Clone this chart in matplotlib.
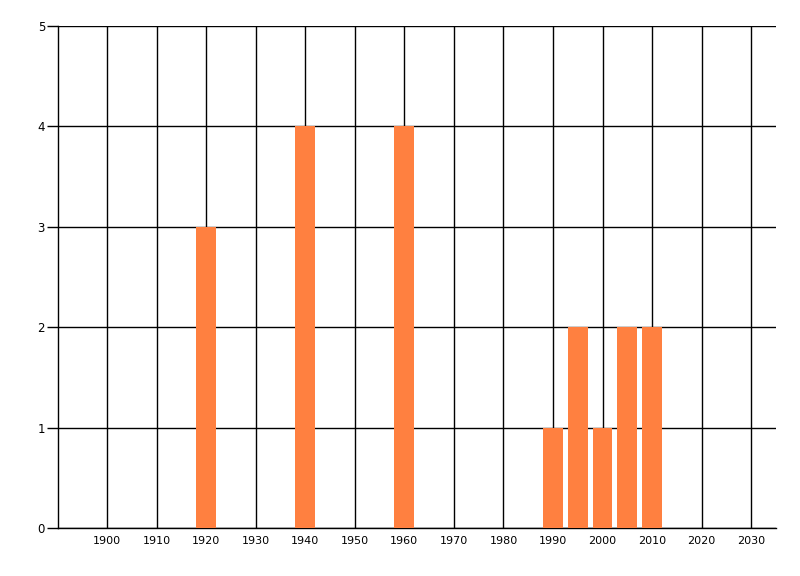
import numpy as np
import matplotlib.pyplot as plt

years = [1920, 1940, 1960, 1990, 1995, 2000, 2005, 2010]
counts = [3, 4, 4, 1, 2, 1, 2, 2]
xticks = list(range(1900, 2031, 10))
yticks = [0, 1, 2, 3, 4, 5]

fig = plt.figure(figsize=(8, 5.76), dpi=100)
ax = fig.add_axes([0.0719, 0.0833, 0.8981, 0.8716])

ax.bar(years, counts, width=4, color="#FF8040", linewidth=0, zorder=3)

ax.set_xlim(1890, 2035)
ax.set_ylim(0, 5)
ax.set_xticks(xticks)
ax.set_yticks(yticks)
ax.grid(True, color="black", linewidth=1, zorder=1)
ax.set_axisbelow(True)

for s in ["top", "right"]:
    ax.spines[s].set_visible(False)
for s in ["left", "bottom"]:
    ax.spines[s].set_linewidth(1)

ax.tick_params(axis="y", length=8, width=1, pad=1, labelsize=8.5)
ax.tick_params(axis="x", length=0, pad=6, labelsize=8)

plt.savefig("out.png", dpi=100)
